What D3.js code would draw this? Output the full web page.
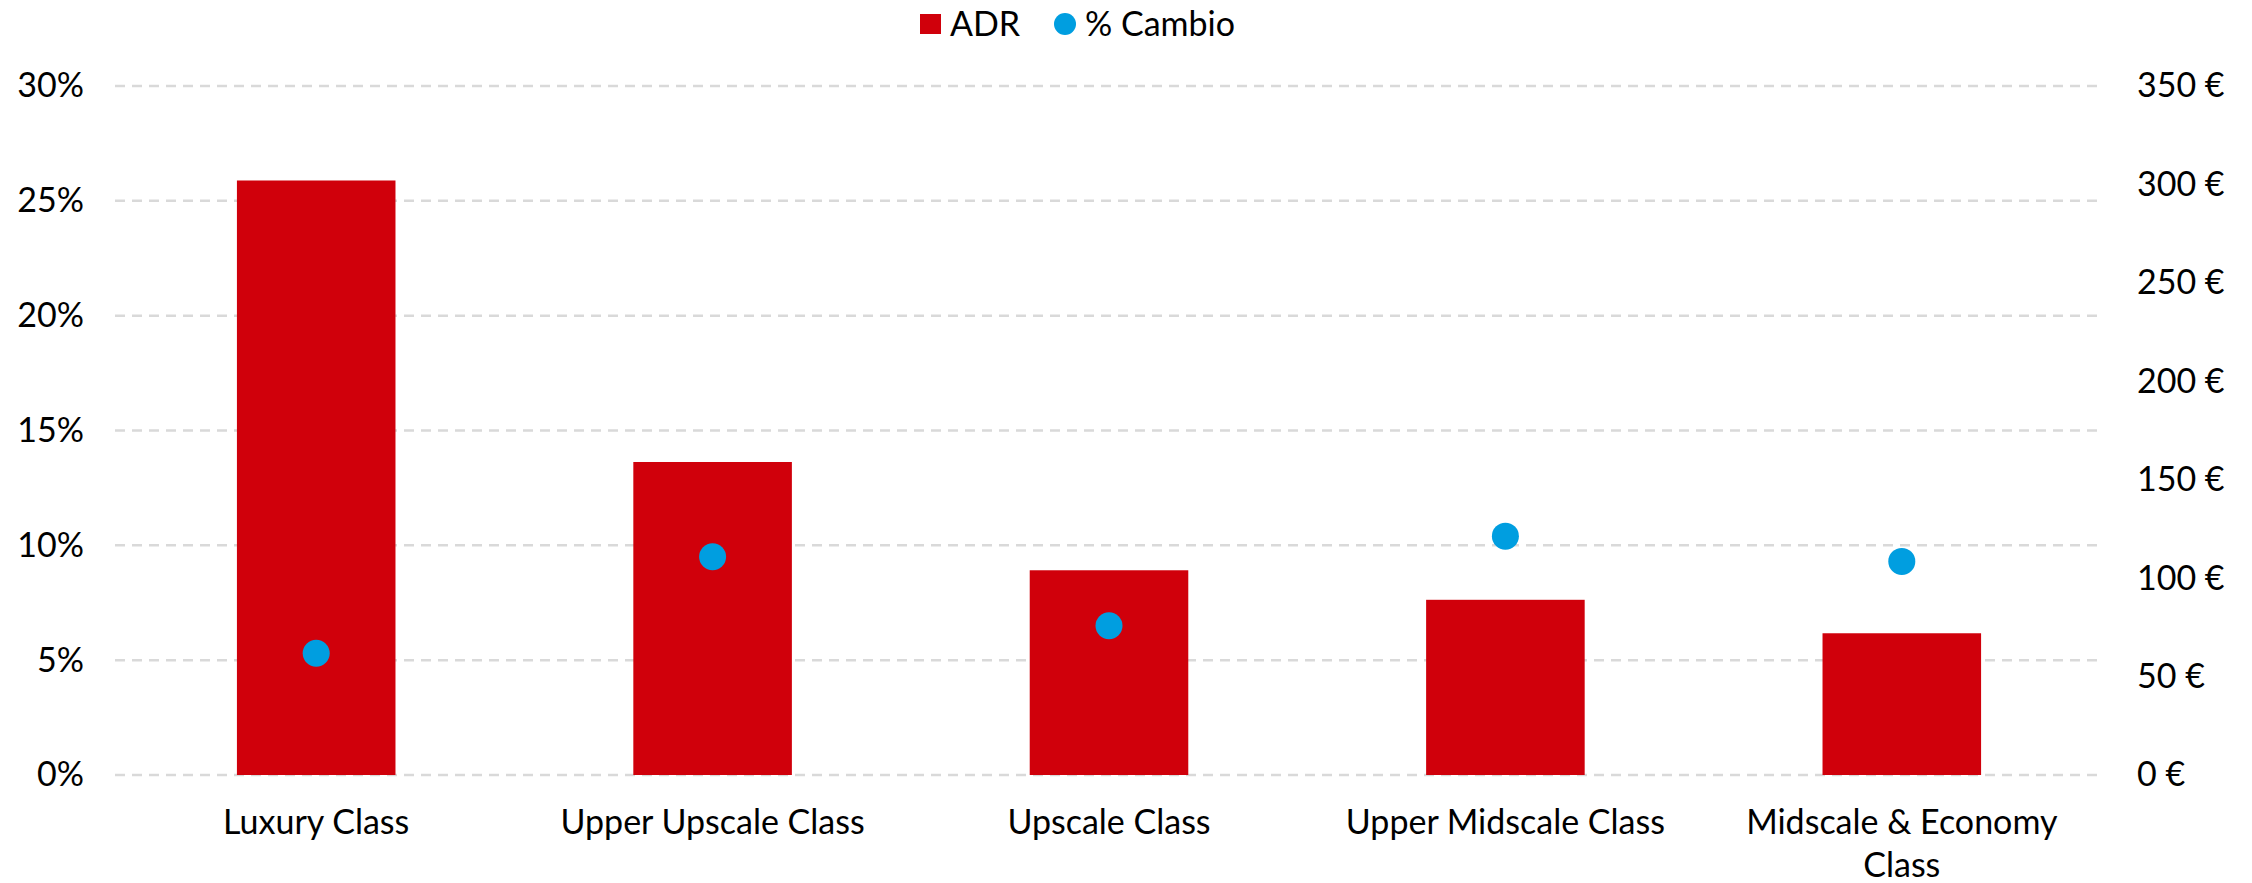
<!DOCTYPE html>
<html lang="es">
<head>
  <meta charset="utf-8">
  <title>ADR y % Cambio por clase</title>
  <script src="https://d3js.org/d3.v7.min.js"></script>
  <style type="text/css">
    body { margin: 0; background: #fff; }
    text { font-family: Lato, "Liberation Sans", sans-serif; fill: #000; }
  </style>
</head>
<body>
  <div id="chart"></div>
  <script type="text/javascript">
    const categories = ["Luxury Class", "Upper Upscale Class", "Upscale Class", "Upper Midscale Class", "Midscale & Economy Class"];
    const adr = [302, 159, 104, 89, 72];
    const cambio = [0.053, 0.095, 0.065, 0.104, 0.093];
    const leftTicks = [0, 0.05, 0.10, 0.15, 0.20, 0.25, 0.30];
    const rightTicks = [0, 50, 100, 150, 200, 250, 300, 350];

    const w = 2252;
    const h = 883;
    const plotLeft = 118, plotRight = 2100;
    const plotTop = 86, plotBottom = 775;
    const barColor = "#d0000b";
    const dotColor = "#009ee0";
    const fontSize = 34;

    const data = categories.map((c, i) => ({cat: c, adr: adr[i], pct: cambio[i]}));

    const svg = d3.select("#chart")
      .append("svg")
      .attr("width", w)
      .attr("height", h);

    const x = d3.scaleBand()
      .domain(categories)
      .range([plotLeft, plotRight])
      .paddingInner(0.6)
      .paddingOuter(0.3);

    const yLeft = d3.scaleLinear().domain([0, 0.30]).range([plotBottom, plotTop]);
    const yRight = d3.scaleLinear().domain([0, 350]).range([plotBottom, plotTop]);

    // dashed grid
    svg.append("g")
      .selectAll("line")
      .data(leftTicks)
      .enter().append("line")
      .attr("x1", 115)
      .attr("x2", 2097)
      .attr("y1", d => yLeft(d))
      .attr("y2", d => yLeft(d))
      .attr("stroke", "#d9d9d9")
      .attr("stroke-width", 2.5)
      .attr("stroke-dasharray", "10,7");

    // bars
    svg.append("g")
      .selectAll("rect")
      .data(data)
      .enter().append("rect")
      .attr("x", d => x(d.cat))
      .attr("width", x.bandwidth())
      .attr("y", d => yRight(d.adr))
      .attr("height", d => yRight(0) - yRight(d.adr))
      .attr("fill", barColor);

    // dots
    svg.append("g")
      .selectAll("circle")
      .data(data)
      .enter().append("circle")
      .attr("cx", d => x(d.cat) + x.bandwidth() / 2)
      .attr("cy", d => yLeft(d.pct))
      .attr("r", 13.5)
      .attr("fill", dotColor);

    // left axis
    const leftAxis = d3.axisLeft(yLeft)
      .tickValues(leftTicks)
      .tickFormat(d3.format(".0%"))
      .tickSize(0)
      .tickPadding(0);
    const gl = svg.append("g")
      .attr("transform", "translate(84,0)")
      .call(leftAxis);
    gl.select(".domain").remove();
    gl.selectAll("text").style("font-size", fontSize + "px").attr("font-family", null);

    // right axis
    const rightAxis = d3.axisRight(yRight)
      .tickValues(rightTicks)
      .tickFormat(d => d + " €")
      .tickSize(0)
      .tickPadding(0);
    const gr = svg.append("g")
      .attr("transform", "translate(2137,0)")
      .call(rightAxis);
    gr.select(".domain").remove();
    gr.selectAll("text").style("font-size", fontSize + "px").attr("font-family", null);

    // category axis
    const bottomAxis = d3.axisBottom(x).tickSize(0).tickPadding(0);
    const gb = svg.append("g")
      .attr("transform", "translate(0," + plotBottom + ")")
      .call(bottomAxis);
    gb.select(".domain").remove();
    gb.selectAll("text")
      .style("font-size", fontSize + "px")
      .attr("font-family", null)
      .attr("y", 59)
      .attr("dy", 0)
      .call(wrap, 350);

    function wrap(sel, maxW) {
      sel.each(function() {
        const t = d3.select(this);
        const words = t.text().split(" ");
        t.text(null);
        let line = [];
        let lineNo = 0;
        let tspan = t.append("tspan").attr("x", 0).attr("y", 59);
        words.forEach(word => {
          line.push(word);
          tspan.text(line.join(" "));
          if (tspan.node().getComputedTextLength() > maxW && line.length > 1) {
            line.pop();
            tspan.text(line.join(" "));
            line = [word];
            lineNo++;
            tspan = t.append("tspan").attr("x", 0).attr("y", 59 + lineNo * 43).text(word);
          }
        });
      });
    }

    // legend
    const legend = svg.append("g").attr("transform", "translate(0,24)");
    legend.append("rect")
      .attr("x", 920).attr("y", -10)
      .attr("width", 21).attr("height", 20)
      .attr("fill", barColor);
    legend.append("text")
      .attr("x", 950).attr("dy", "0.35em")
      .style("font-size", fontSize + "px")
      .text("ADR");
    legend.append("circle")
      .attr("cx", 1065).attr("cy", 0).attr("r", 11)
      .attr("fill", dotColor);
    legend.append("text")
      .attr("x", 1085).attr("dy", "0.35em")
      .style("font-size", fontSize + "px")
      .text("% Cambio");
  </script>
</body>
</html>
